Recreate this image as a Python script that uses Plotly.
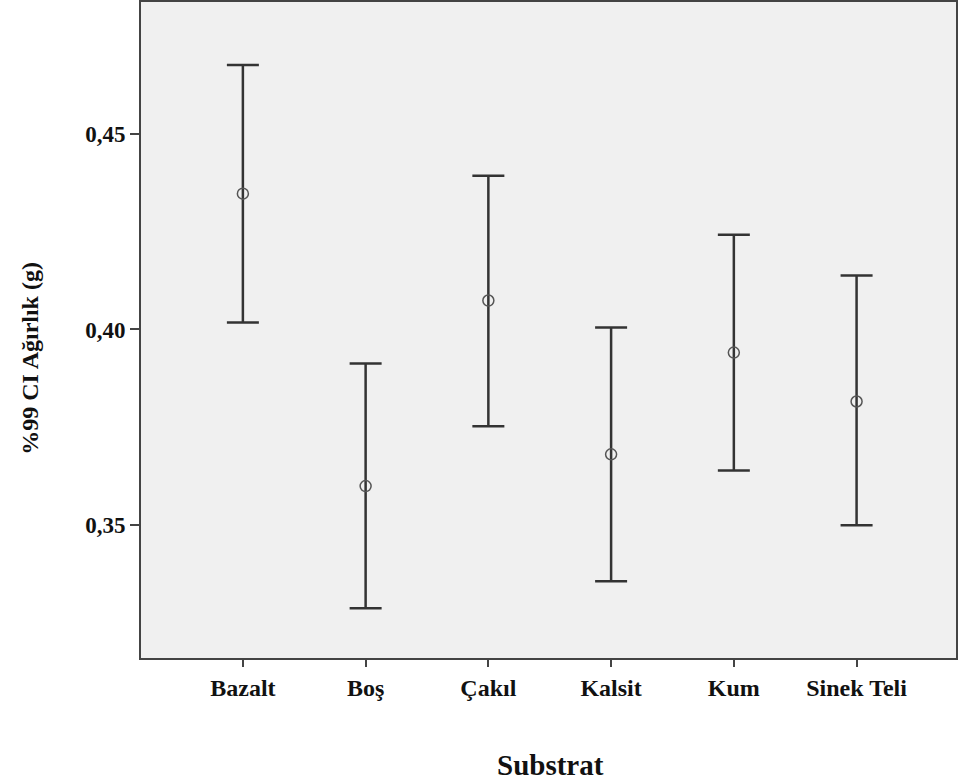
import plotly.graph_objects as go

categories = ["Bazalt", "Boş", "Çakıl", "Kalsit", "Kum", "Sinek Teli"]
means = [0.4347, 0.3600, 0.4074, 0.3681, 0.3941, 0.3816]
upper = [0.4676, 0.3913, 0.4393, 0.4005, 0.4242, 0.4138]
lower = [0.4018, 0.3288, 0.3753, 0.3357, 0.3640, 0.3500]
y_ticks = [0.35, 0.40, 0.45]
y_tick_labels = ["0,35", "0,40", "0,45"]
x_title = "Substrat"
y_title = "%99 CI Ağırlık (g)"

err_plus = [u - m for u, m in zip(upper, means)]
err_minus = [m - l for m, l in zip(means, lower)]

fig = go.Figure()
fig.add_trace(go.Scatter(
    x=list(range(len(categories))),
    y=means,
    mode="markers",
    marker=dict(symbol="circle-open", size=11, color="#555555", line=dict(width=1.5, color="#555555")),
    error_y=dict(type="data", symmetric=False, array=err_plus, arrayminus=err_minus,
                 color="#333333", thickness=2.5, width=16),
    showlegend=False,
    hoverinfo="skip",
))

font_family = "Liberation Serif, Times New Roman, serif"
fig.update_layout(
    width=958, height=784,
    autosize=False,
    margin=dict(l=141, r=0, t=1, b=126),
    paper_bgcolor="white",
    plot_bgcolor="#f0f0f0",
    font=dict(family=font_family, color="#111111"),
    xaxis=dict(
        range=[-0.83, 5.81],
        tickmode="array",
        tickvals=list(range(len(categories))),
        ticktext=["<b>%s</b>" % c for c in categories],
        tickfont=dict(size=24, family=font_family, color="#111111"),
        ticks="outside", ticklen=7, tickwidth=2, tickcolor="#444444",
        showline=True, linecolor="#444444", linewidth=2, mirror=True,
        showgrid=False, zeroline=False,
    ),
    yaxis=dict(
        range=[0.31607, 0.48367],
        tickmode="array",
        tickvals=y_ticks,
        ticktext=["<b>%s</b>" % t for t in y_tick_labels],
        tickfont=dict(size=23, family=font_family, color="#111111"),
        ticks="outside", ticklen=9, tickwidth=2, tickcolor="#444444",
        showline=True, linecolor="#444444", linewidth=2, mirror=True,
        showgrid=False, zeroline=False,
    ),
    annotations=[
        dict(text="<b>%s</b>" % x_title, xref="paper", yref="paper",
             x=0.502, y=-0.1629, xanchor="center", yanchor="middle", showarrow=False,
             font=dict(size=29, family=font_family, color="#111111")),
        dict(text="<b>%s</b>" % y_title, xref="paper", yref="paper",
             x=-0.1359, y=0.4566, xanchor="center", yanchor="middle", showarrow=False,
             textangle=-90, font=dict(size=24, family=font_family, color="#111111")),
    ],
)

fig.write_html(
    "out.html",
    config={"displayModeBar": False, "responsive": False},
    post_script="document.body.style.margin='0';document.body.style.overflow='hidden';",
)
